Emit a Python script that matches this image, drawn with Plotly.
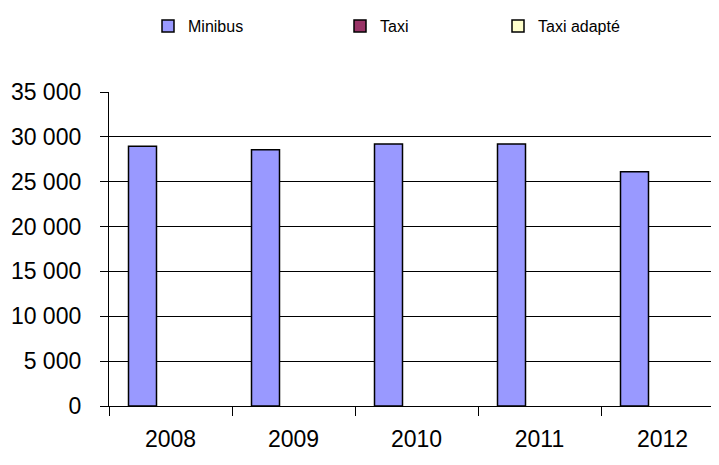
import plotly.graph_objects as go

years = ["2008", "2009", "2010", "2011", "2012"]
minibus = [28950, 28550, 29200, 29200, 26100]
taxi = [None, None, None, None, None]
taxi_adapte = [None, None, None, None, None]
y_tickvals = [0, 5000, 10000, 15000, 20000, 25000, 30000, 35000]
y_ticktext = ["0", "5 000", "10 000", "15 000", "20 000", "25 000", "30 000", "35 000"]

FONT = "Liberation Sans, Arial, sans-serif"
OFF = 8  # default body margin of the page
W, H = 719 - OFF, 465 - OFF

fig = go.Figure()
fig.add_trace(go.Bar(name="Minibus", x=years, y=minibus,
                     marker=dict(color="#9999FF", line=dict(color="black", width=1.5)),
                     legend="legend"))
fig.add_trace(go.Bar(name="Taxi", x=years, y=taxi,
                     marker=dict(color="#993366", line=dict(color="black", width=1.5)),
                     legend="legend2"))
fig.add_trace(go.Bar(name="Taxi adapté", x=years, y=taxi_adapte,
                     marker=dict(color="#FFFFCC", line=dict(color="black", width=1.5)),
                     legend="legend3"))

leg_common = dict(orientation="h", xref="container", yref="container",
                  yanchor="middle", xanchor="left", y=1 - (26 - OFF) / H,
                  font=dict(family=FONT, size=16, color="black"),
                  bgcolor="rgba(0,0,0,0)", itemwidth=30)

fig.update_layout(
    width=W, height=H,
    margin=dict(l=109 - OFF, r=0, t=92 - OFF, b=465 - 406, autoexpand=False),
    paper_bgcolor="white", plot_bgcolor="white",
    barmode="group", bargap=0.317, bargroupgap=0,
    font=dict(family=FONT, color="black"),
    showlegend=True,
    legend=dict(x=(165 - 17 - OFF) / W, **leg_common),
    legend2=dict(x=(357 - 17 - OFF) / W, **leg_common),
    legend3=dict(x=(515 - 17 - OFF) / W, **leg_common),
    xaxis=dict(
        type="category", range=[-0.5, -0.5 + 610 / 123],
        showline=True, linecolor="black", linewidth=1.3,
        ticks="outside", tickson="boundaries", ticklen=9, tickwidth=1.3, tickcolor="black",
        tickfont=dict(family=FONT, size=23, color="black"),
        ticklabelstandoff=12, showgrid=False,
    ),
    yaxis=dict(
        range=[0, 35000], tickvals=y_tickvals, ticktext=y_ticktext,
        showline=True, linecolor="black", linewidth=1.3,
        ticks="outside", ticklen=8, tickwidth=1.3, tickcolor="black",
        tickfont=dict(family=FONT, size=23, color="black"),
        ticklabelstandoff=14,
        showgrid=True, gridcolor="black", gridwidth=1.3, zeroline=False,
    ),
)

fig.write_html("out.html")
